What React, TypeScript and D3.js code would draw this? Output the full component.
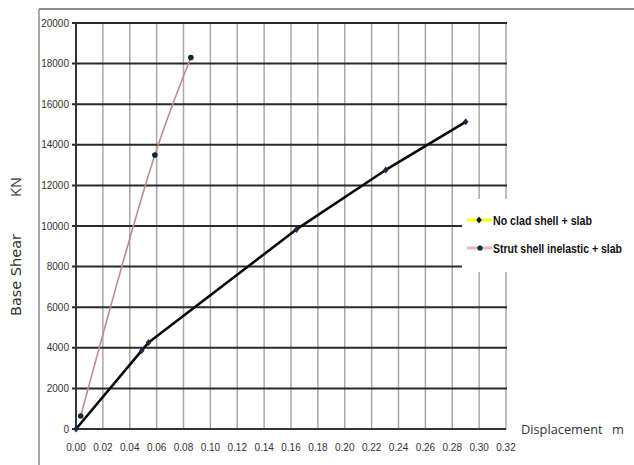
import React, { useRef, useLayoutEffect, useState } from 'react';
import * as d3 from 'd3';

// values
const xTicks = [0, 0.02, 0.04, 0.06, 0.08, 0.1, 0.12, 0.14, 0.16, 0.18, 0.2, 0.22, 0.24, 0.26, 0.28, 0.3, 0.32];
const yTicks = [0, 2000, 4000, 6000, 8000, 10000, 12000, 14000, 16000, 18000, 20000];

const noCladDisp = [0, 0.049, 0.054, 0.164, 0.2305, 0.29];
const noCladShear = [0, 3870, 4260, 9830, 12760, 15130];

const strutDisp = [0.0035, 0.0587, 0.0855];
const strutShear = [640, 13500, 18300];

const seriesNames = ['No clad shell + slab', 'Strut shell inelastic + slab'];

const W = 634;
const H = 465;

// bold text squeezed horizontally to a target width (condensed look)
const NarrowText = ({ x, y, width, children }: { x: number; y: number; width: number; children: string }) => {
  const ref = useRef<SVGTextElement>(null);
  const [k, setK] = useState(0.75);
  useLayoutEffect(() => {
    if (ref.current) {
      const len = ref.current.getComputedTextLength();
      if (len > 0) setK(width / len);
    }
  }, [width, children]);
  return (
    <text ref={ref} transform={`translate(${x},${y}) scale(${k},1)`} dy="0.35em"
      fontFamily='"Liberation Sans", Arial, sans-serif' fontWeight="bold" fontSize={13} fill="#111">
      {children}
    </text>
  );
};

const App = () => {
  const x = d3.scaleLinear().domain([0, 0.32]).range([76, 506]);
  const y = d3.scaleLinear().domain([0, 20000]).range([429, 23]);

  const noClad = noCladDisp.map((d, i) => [d, noCladShear[i]] as [number, number]);
  const strut = strutDisp.map((d, i) => [d, strutShear[i]] as [number, number]);

  const straight = d3.line<[number, number]>()
    .x(d => x(d[0]))
    .y(d => y(d[1]));
  const smooth = d3.line<[number, number]>()
    .x(d => x(d[0]))
    .y(d => y(d[1]))
    .curve(d3.curveCatmullRom.alpha(0.5));

  const tickFont = '"Liberation Sans", Arial, sans-serif';
  const titleFont = '"Open Sans", "DejaVu Sans", sans-serif';

  const diamond = (cx: number, cy: number, r: number) =>
    `M${cx},${cy - r}L${cx + r * 0.8},${cy}L${cx},${cy + r}L${cx - r * 0.8},${cy}Z`;

  return (
    <svg width={W} height={H} style={{ position: 'absolute', left: 0, top: 0, background: '#fff' }}>
      {/* outer frame */}
      <line x1={39} y1={9} x2={W} y2={9} stroke="#8a8a8a" strokeWidth={2} />
      <line x1={39} y1={9} x2={39} y2={H} stroke="#8a8a8a" strokeWidth={1.5} />

      {/* vertical gridlines */}
      {xTicks.slice(1).map(t => (
        <line key={'vx' + t} x1={x(t)} x2={x(t)} y1={y(20000)} y2={y(0)} stroke="#a8a8a8" strokeWidth={1.5} />
      ))}
      {/* horizontal gridlines */}
      {yTicks.slice(1).map(t => (
        <line key={'hy' + t} x1={72} x2={x(0.32) + 1} y1={y(t)} y2={y(t)} stroke="#2a2a2a" strokeWidth={2} />
      ))}

      {/* axes */}
      <line x1={x(0)} x2={x(0)} y1={y(20000)} y2={y(0)} stroke="#333" strokeWidth={2} />
      <line x1={72} x2={x(0.32)} y1={y(0)} y2={y(0)} stroke="#333" strokeWidth={2} />

      {/* y tick labels */}
      {yTicks.map(t => (
        <text key={'ty' + t} x={69} y={y(t)} dy="0.35em" textAnchor="end"
          fontFamily={tickFont} fontSize={10} fill="#333">{t}</text>
      ))}
      {/* x tick labels */}
      {xTicks.map(t => (
        <text key={'tx' + t} x={x(t)} y={451} textAnchor="middle"
          fontFamily={tickFont} fontSize={10} fill="#333">{t.toFixed(2)}</text>
      ))}

      {/* series */}
      <path d={smooth(strut) || ''} fill="none" stroke="#c48a8a" strokeWidth={1.6} />
      <path d={straight(noClad) || ''} fill="none" stroke="#0a0a0a" strokeWidth={2.6} strokeLinejoin="round" />
      {noClad.map((d, i) => (
        <path key={'m1' + i} d={diamond(x(d[0]), y(d[1]), 3.5)} fill="#1c2c44" />
      ))}
      {strut.map((d, i) => (
        <circle key={'m2' + i} cx={x(d[0])} cy={y(d[1])} r={2.8} fill="#0c2a38" />
      ))}

      {/* legend */}
      <rect x={462} y={199} width={W - 462} height={73} fill="#fff" />
      <line x1={467} x2={492} y1={220} y2={220} stroke="#ffff00" strokeWidth={3} />
      <path d={diamond(479, 220, 3.5)} fill="#111" />
      <NarrowText x={493} y={220} width={99}>{seriesNames[0]}</NarrowText>
      <line x1={467} x2={492} y1={248} y2={248} stroke="#eab8bc" strokeWidth={3} />
      <circle cx={480} cy={248} r={2.6} fill="#0c2a38" />
      <NarrowText x={493} y={248} width={129}>{seriesNames[1]}</NarrowText>

      {/* axis titles */}
      <text transform="translate(21,187) rotate(-90)" textAnchor="middle" fontFamily={titleFont} fontSize={14.5} fill="#333">KN</text>
      <text transform="translate(21,275) rotate(-90)" textAnchor="middle" fontFamily='"DejaVu Sans", sans-serif' fontSize={14.5} fill="#333">Base Shear</text>
      <text x={521} y={434} fontFamily={titleFont} fontSize={12.8} fill="#333">Displacement</text>
      <text x={612} y={434} fontFamily={titleFont} fontSize={12.8} fill="#333">m</text>
    </svg>
  );
};

export default App;
